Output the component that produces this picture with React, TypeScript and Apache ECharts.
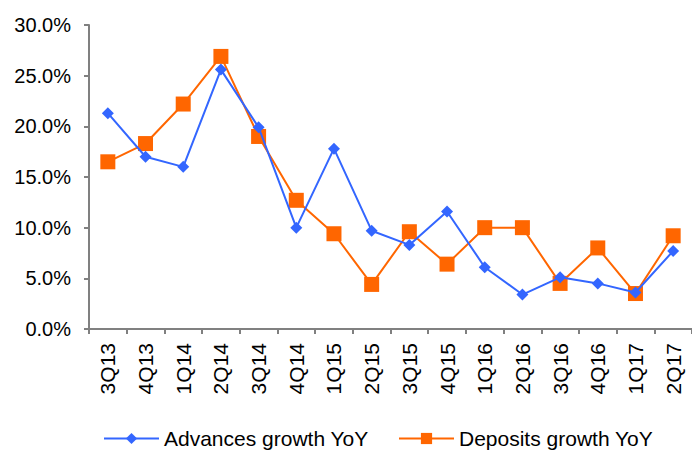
import React, { useEffect, useRef } from "react";
import * as echarts from "echarts";

const quarters = [
  "3Q13", "4Q13", "1Q14", "2Q14", "3Q14", "4Q14", "1Q15", "2Q15",
  "3Q15", "4Q15", "1Q16", "2Q16", "3Q16", "4Q16", "1Q17", "2Q17",
];

const advancesGrowth = [
  21.3, 17.0, 16.0, 25.6, 19.9, 10.0, 17.8, 9.7,
  8.3, 11.6, 6.1, 3.4, 5.1, 4.5, 3.6, 7.7,
];

const depositsGrowth = [
  16.5, 18.3, 22.2, 26.9, 19.0, 12.7, 9.4, 4.4,
  9.6, 6.4, 10.0, 10.0, 4.5, 8.0, 3.5, 9.2,
];

const seriesNames = ["Advances growth YoY", "Deposits growth YoY"];

const FONT = "'Liberation Sans', Arial, sans-serif";
const BLUE = "#3366ff";
const ORANGE = "#ff6600";
const AXIS = "#808080";

const legendBase = {
  top: 428,
  padding: 0,
  itemWidth: 55,
  itemHeight: 14,
  textStyle: { fontFamily: FONT, fontSize: 21, color: "#000" },
};

export default function App() {
  const ref = useRef<HTMLDivElement>(null);

  useEffect(() => {
    if (!ref.current) return;
    const chart = echarts.init(ref.current, undefined, { renderer: "svg" });
    chart.setOption({
      animation: false,
      backgroundColor: "#ffffff",
      textStyle: { fontFamily: FONT },
      grid: { left: 89, top: 25, width: 604, height: 304, containLabel: false },
      legend: [
        { ...legendBase, left: 103, data: [seriesNames[0]] },
        { ...legendBase, left: 398, data: [seriesNames[1]] },
      ],
      xAxis: {
        type: "category",
        data: quarters,
        boundaryGap: true,
        axisLine: { lineStyle: { color: AXIS, width: 2 } },
        axisTick: { show: true, length: 5, alignWithLabel: false, lineStyle: { color: AXIS, width: 2 } },
        axisLabel: {
          rotate: 90,
          margin: 14,
          fontFamily: FONT,
          fontSize: 21,
          color: "#000",
          interval: 0,
        },
        splitLine: { show: false },
      },
      yAxis: {
        type: "value",
        min: 0,
        max: 30,
        interval: 5,
        axisLine: { show: true, lineStyle: { color: AXIS, width: 2 } },
        axisTick: { show: true, length: 5, lineStyle: { color: AXIS, width: 2 } },
        axisLabel: {
          margin: 18,
          fontFamily: FONT,
          fontSize: 20,
          color: "#000",
          formatter: (v: number) => v.toFixed(1) + "%",
        },
        splitLine: { show: false },
      },
      series: [
        {
          name: seriesNames[0],
          type: "line",
          data: advancesGrowth,
          symbol: "diamond",
          symbolSize: 12,
          lineStyle: { color: BLUE, width: 2 },
          itemStyle: { color: BLUE },
          z: 3,
        },
        {
          name: seriesNames[1],
          type: "line",
          data: depositsGrowth,
          symbol: "rect",
          symbolSize: 15,
          lineStyle: { color: ORANGE, width: 2 },
          itemStyle: { color: ORANGE },
          z: 2,
        },
      ],
    });
    return () => chart.dispose();
  }, []);

  return <div ref={ref} style={{ width: 692, height: 452, position: "absolute", left: 0, top: 0 }} />;
}
